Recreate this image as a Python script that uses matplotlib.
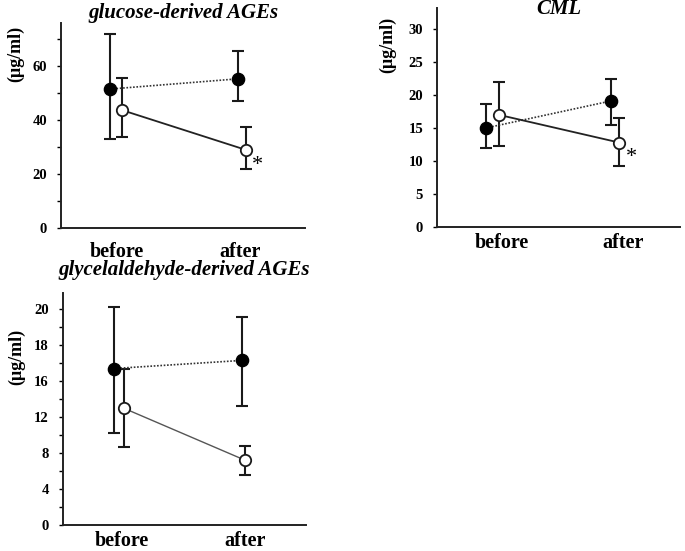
import matplotlib
matplotlib.use("Agg")
import matplotlib.pyplot as plt
import numpy as np
from matplotlib.ticker import MultipleLocator

# Data
groups = ["before", "after"]

# glucose-derived AGEs
glu_filled = [51.5, 55.3]
glu_filled_hi = [72.0, 65.5]
glu_filled_lo = [33.0, 47.0]
glu_open = [43.7, 28.9]
glu_open_hi = [55.5, 37.3]
glu_open_lo = [33.8, 21.8]

# CML
cml_filled = [15.0, 19.1]
cml_filled_hi = [18.6, 22.5]
cml_filled_lo = [12.0, 15.4]
cml_open = [17.0, 12.8]
cml_open_hi = [22.0, 16.5]
cml_open_lo = [12.3, 9.3]

# glycelaldehyde-derived AGEs (axis units, tick labels as printed)
gly_filled = [17.4, 18.3]
gly_filled_hi = [24.2, 23.1]
gly_filled_lo = [10.2, 13.2]
gly_open = [13.0, 7.2]
gly_open_hi = [17.3, 8.8]
gly_open_lo = [8.7, 5.6]
gly_tick_labels = ["0", "4", "8", "12", "16", "18", "20"]

plt.rcParams["font.family"] = "Liberation Serif"

fig = plt.figure(figsize=(6.85, 5.51), dpi=100)


def panel(rect, title, title_xy, filled, f_hi, f_lo, opn, o_hi, o_lo,
          xf, xo, xlab, xpad, solid_color="#222222", solid_lw=1.3):
    ax = fig.add_axes(rect)
    f = np.array(filled)
    o = np.array(opn)
    ferr = [f - np.array(f_lo), np.array(f_hi) - f]
    oerr = [o - np.array(o_lo), np.array(o_hi) - o]
    ax.errorbar(xf, f, yerr=ferr, fmt="none", ecolor="#1a1a1a", elinewidth=1.5,
                capsize=4, capthick=1.5, zorder=2)
    ax.errorbar(xo, o, yerr=oerr, fmt="none", ecolor="#1a1a1a", elinewidth=1.5,
                capsize=4, capthick=1.5, zorder=2)
    ax.plot(xf, f, linestyle=(0, (1, 1)), color="#333333", lw=1.2, zorder=3)
    ax.plot(xo, o, linestyle="-", color=solid_color, lw=solid_lw, zorder=3)
    ax.plot(xf, f, "o", ms=8.8, mfc="black", mec="black", zorder=4)
    ax.plot(xo, o, "o", ms=8.2, mfc="white", mec="#1a1a1a", mew=1.3, zorder=5)
    ax.set_xlim(0.5, 2.5)
    ax.set_xticks(xlab)
    ax.set_xticklabels(groups, fontsize=14.5, fontweight="bold")
    ax.tick_params(axis="x", length=0, pad=xpad)
    ax.tick_params(axis="y", which="major", length=3, width=1, labelsize=10.5, pad=7)
    ax.tick_params(axis="y", which="minor", length=3, width=1)
    for s in ["top", "right"]:
        ax.spines[s].set_visible(False)
    for s in ["left", "bottom"]:
        ax.spines[s].set_linewidth(1.4)
        ax.spines[s].set_color("#222222")
    fig.text(title_xy[0] / 685, 1 - title_xy[1] / 551, title, ha="center", va="center",
             fontsize=15, fontweight="bold", style="italic")
    return ax


# top-left
ax1 = panel([61 / 685, 1 - 228 / 551, 244 / 685, 205 / 551],
            "glucose-derived AGEs", (183, 13),
            glu_filled, glu_filled_hi, glu_filled_lo,
            glu_open, glu_open_hi, glu_open_lo,
            [0.90, 1.95], [1.0, 2.02], [0.96, 1.97], 10)
ax1.set_ylim(0, 76)
ax1.yaxis.set_major_locator(MultipleLocator(20))
ax1.yaxis.set_minor_locator(MultipleLocator(10))
ax1.text(2.11, 23.3, "*", fontsize=16, ha="center", va="center")

# CML
ax2 = panel([437 / 685, 1 - 227 / 551, 243 / 685, 219 / 551],
            "CML", (559, 9),
            cml_filled, cml_filled_hi, cml_filled_lo,
            cml_open, cml_open_hi, cml_open_lo,
            [0.90, 1.93], [1.01, 2.0], [1.03, 2.03], 4)
ax2.set_ylim(0, 33.2)
ax2.yaxis.set_major_locator(MultipleLocator(5))
ax2.text(2.1, 10.6, "*", fontsize=16, ha="center", va="center")

# bottom-left
ax3 = panel([62.7 / 685, 1 - 525 / 551, 243.3 / 685, 232 / 551],
            "glycelaldehyde-derived AGEs", (184, 270),
            gly_filled, gly_filled_hi, gly_filled_lo,
            gly_open, gly_open_hi, gly_open_lo,
            [0.92, 1.97], [1.0, 2.0], [0.99, 2.0], 4,
            solid_color="#555555", solid_lw=1.0)
ax3.set_ylim(0, 25.8)
ax3.set_yticks(np.arange(len(gly_tick_labels)) * 4)
ax3.set_yticklabels(gly_tick_labels)
ax3.yaxis.set_minor_locator(MultipleLocator(2))

for ax in (ax1, ax2, ax3):
    for lab in ax.get_yticklabels():
        lab.set_fontweight("bold")

# y-axis unit labels
for x, y in [(16, 54), (388, 45), (17, 357)]:
    fig.text(x / 685, 1 - y / 551, "(\u03bcg/ml)", rotation=90, ha="center", va="center",
             fontsize=13, fontweight="bold")

fig.savefig("out.png", dpi=100)
